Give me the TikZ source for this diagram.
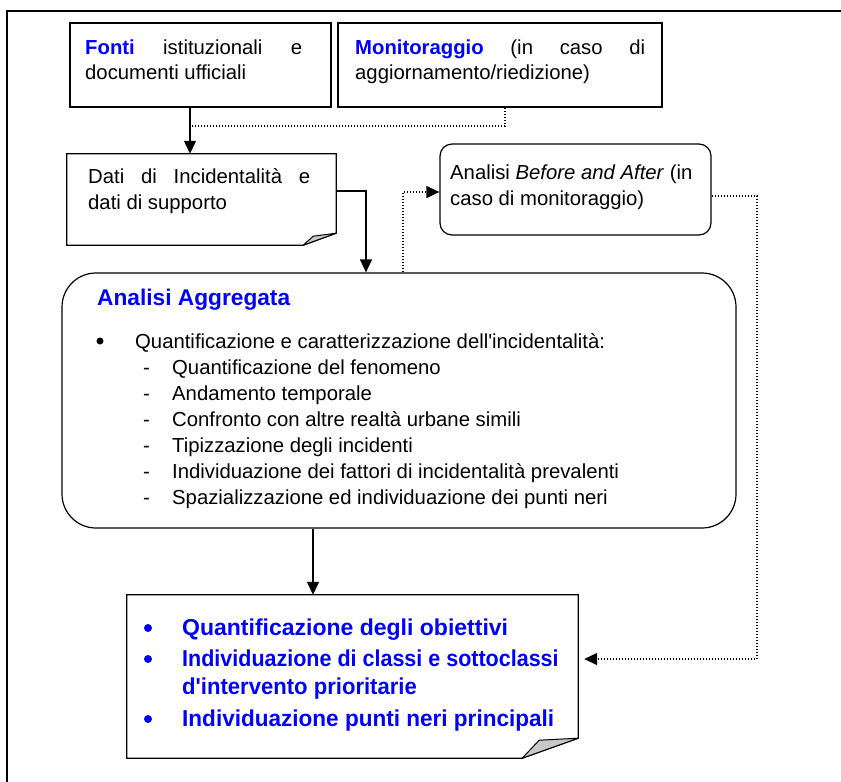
\documentclass[tikz,border=0pt]{standalone}
\usepackage{fontspec}
\setmainfont{Liberation Sans}
\usetikzlibrary{arrows.meta}
\definecolor{tblue}{RGB}{0,0,255}
\definecolor{foldgray}{RGB}{200,200,200}
\newcommand{\rfont}{\fontsize{20.3pt}{26pt}\selectfont}
\newcommand{\bigbfont}{\fontsize{23pt}{28pt}\selectfont\bfseries}
\newcommand{\apo}{\textquotesingle}
\begin{document}
\begin{tikzpicture}[x=1pt,y=-1pt,
  box/.style={draw,line width=1.2pt,inner sep=0},
  ghost/.style={draw=none,inner sep=0},
  t/.style={anchor=base west,inner sep=0,font=\rfont},
  tb/.style={anchor=base west,inner sep=0,font=\bigbfont,text=tblue},
  arr/.style={line width=1.2pt,-{Triangle[length=13pt,width=12pt]}},
  dot/.style={line width=1.3pt,dash pattern=on 1.2pt off 1.8pt},
  dotarr/.style={dot,-{Triangle[length=13pt,width=12pt,sep=0pt]}},
  bul/.style={circle,fill,inner sep=0,minimum size=8pt},
  flap/.style={fill=foldgray,draw,line width=1pt,line join=round}]
\useasboundingbox (0,0) rectangle (841,782);
% outer frame
\draw[line width=1.6pt] (7,782) -- (7,11) -- (841,11);

% boxes
\node[box,minimum width=261pt,minimum height=84pt] (fonti) at (200.5,65) {};
\node[box,minimum width=324pt,minimum height=84pt] (monit) at (500,65) {};
\node[ghost,minimum width=269pt,minimum height=91pt] (dati) at (201.5,199.5) {};
\draw[line width=1.2pt] (dati.north west) -- (dati.north east) -- ([yshift=12pt]dati.south east)
  -- ([xshift=-33pt]dati.south east) -- (dati.south west) -- cycle;
\draw[flap] ([xshift=-33pt]dati.south east) -- ([xshift=-23pt,yshift=9pt]dati.south east) -- ([yshift=12pt]dati.south east) -- cycle;
\node[box,rounded corners=12pt,minimum width=271pt,minimum height=91pt] (analisi) at (575.5,189.5) {};
\node[box,rounded corners=34pt,minimum width=674pt,minimum height=255pt] (agg) at (399,400.5) {};
\node[ghost,minimum width=451pt,minimum height=163pt] (obj) at (352.5,676.5) {};
\draw[line width=1.2pt] (obj.north west) -- (obj.north east) -- ([yshift=20pt]obj.south east)
  -- ([xshift=-56pt]obj.south east) -- (obj.south west) -- cycle;
\draw[flap] ([xshift=-56pt]obj.south east) -- ([xshift=-39pt,yshift=18pt]obj.south east) -- ([yshift=20pt]obj.south east) -- cycle;

% texts: fonti
\node[t] (f1) at (85,54) {\makebox[217pt][s]{\textcolor{tblue}{\bfseries Fonti} istituzionali e}};
\node[t] (f2) at (85,79) {documenti ufficiali};
% monitoraggio
\node[t] (m1) at (355,54) {\makebox[290pt][s]{\textcolor{tblue}{\bfseries Monitoraggio} (in caso di}};
\node[t] (m2) at (355,79) {aggiornamento/riedizione)};
% dati
\node[t] (d1) at (88,183) {\makebox[222pt][s]{Dati di Incidentalità e}};
\node[t] (d2) at (88,209) {dati di supporto};
% analisi before/after
\node[t] (a1) at (450,179) {Analisi \textit{Before and After} (in};
\node[t] (a2) at (450,205) {caso di monitoraggio)};
% analisi aggregata
\node[t,font=\fontsize{22.7pt}{28pt}\selectfont\bfseries,text=tblue] (g0) at (97,305) {Analisi Aggregata};
\node[bul,minimum size=7pt] (gb) at (100,341) {};
\node[t] (g1) at (135,348) {Quantificazione e caratterizzazione dell\apo incidentalità:};
\foreach \yy/\txt [count=\i] in {374/Quantificazione del fenomeno,400/Andamento temporale,426/Confronto con altre realtà urbane simili,452/Tipizzazione degli incidenti,478/Individuazione dei fattori di incidentalità prevalenti,504/Spazializzazione ed individuazione dei punti neri}{
  \node[t] (gd\i) at (143,\yy) {-};
  \node[t] (gs\i) at (172,\yy) {\txt};
}
% obiettivi
\node[bul,fill=tblue] (ob1) at (148,628) {};
\node[tb] (o1) at (182,635) {Quantificazione degli obiettivi};
\node[bul,fill=tblue] (ob2) at (148,659) {};
\node[tb] (o2) at (182,666) {\scalebox{0.935}[1]{Individuazione di classi e sottoclassi}};
\node[tb] (o3) at (182,694) {\scalebox{0.96}[1]{d\apo intervento prioritarie}};
\node[bul,fill=tblue] (ob4) at (148,719) {};
\node[tb] (o4) at (182,726) {\scalebox{0.98}[1]{Individuazione punti neri principali}};

% connectors
\coordinate (j1) at (190,126);
\draw[arr] ([xshift=-10.5pt]fonti.south) -- ([xshift=-11.5pt]dati.north);
\draw[dot] ([xshift=5pt]monit.south) |- (j1);
\draw[arr] ([yshift=8.5pt]dati.east) -| ([xshift=-33pt]agg.north);
\draw[dotarr] ([xshift=4pt]agg.north) |- ([yshift=-2.5pt]analisi.west);
\coordinate (c1) at (757,196);
\draw[dotarr,shorten >=6pt] ([yshift=-6.5pt]analisi.east) -- (c1) |- ([yshift=17.5pt]obj.east);
\draw[arr] ([xshift=-86pt]agg.south) -- ([xshift=-39.5pt]obj.north);
\end{tikzpicture}
\end{document}
